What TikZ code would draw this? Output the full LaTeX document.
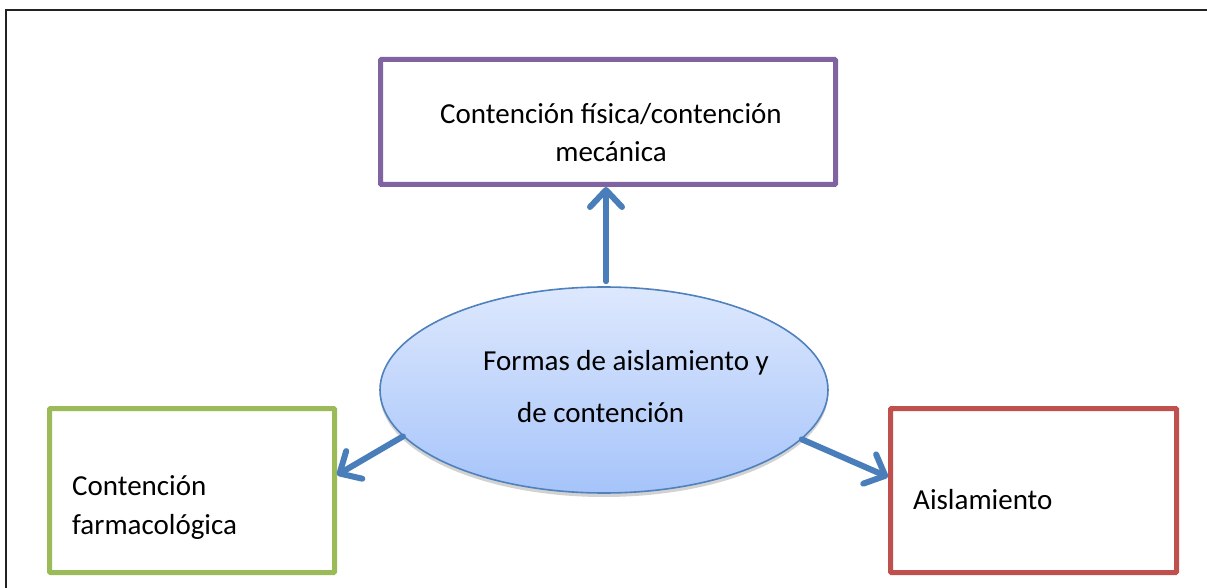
\documentclass[tikz,border=0pt]{standalone}
\usepackage{fontspec}
\setmainfont{Carlito}
\usetikzlibrary{arrows.meta,shapes.geometric,shadows}
\definecolor{boxpurple}{HTML}{8064A2}
\definecolor{boxgreen}{HTML}{9BBB59}
\definecolor{boxred}{HTML}{C0504D}
\definecolor{arrblue}{HTML}{4A7EBB}
\definecolor{ellborder}{HTML}{4F81BD}
\definecolor{elltop}{HTML}{DDE8FD}
\definecolor{ellbot}{HTML}{A6C4FA}
\definecolor{framecol}{HTML}{222222}
\tikzset{
  boxnode/.style={draw, line width=5pt, rectangle, rounded corners=1pt, fill=white},
  txt/.style={font=\fontsize{29}{35}\selectfont, inner sep=0pt, anchor=base west, text=black},
  arr/.style={draw=arrblue, line width=6pt, line cap=round,
    -{Straight Barb[round, length=17pt, width=32pt]}},
}
\begin{document}
\begin{tikzpicture}[x=1pt, y=-1pt]
\useasboundingbox (0,0) rectangle (1207,588);
\fill[white] (0,0) rectangle (1207,588);
% outer frame (only top and left visible)
\draw[framecol, line width=2pt] (6,588) -- (6,10) -- (1207,10);

% boxes
\node[boxnode, draw=boxpurple, minimum width=455pt, minimum height=125pt] (phys) at (608,122) {};
\node[boxnode, draw=boxgreen, minimum width=285pt, minimum height=164pt] (pharm) at (192,490.5) {};
\node[boxnode, draw=boxred, minimum width=286pt, minimum height=164pt] (isol) at (1033.5,490.5) {};

% ellipse
\node[ellipse, draw=ellborder, line width=1.6pt, top color=elltop, bottom color=ellbot,
  minimum width=448pt, minimum height=206pt, inner sep=0pt,
  drop shadow={shadow xshift=0pt, shadow yshift=-4pt, opacity=0.35, fill=gray}] (ell) at (604,390) {};

% texts
\node[txt, anchor=base] (t1a) at (611,124) {Contención física/contención};
\node[txt, anchor=base] (t1b) at (611,162) {mecánica};
\node[txt] (t2a) at (483,370) {Formas de aislamiento y};
\node[txt] (t2b) at (517,422) {de contención};
\node[txt] (t3a) at (72,495) {Contención};
\node[txt] (t3b) at (72,534) {farmacológica};
\node[txt] (t4) at (913,509) {Aislamiento};

% arrows
\draw[arr] ([shift={(2pt,5pt)}]ell.north) -- ([xshift=-2pt]phys.south);
\draw[arr] (ell.193) -- ([yshift=15.5pt]pharm.east);
\draw[arr] (ell.346) -- ([yshift=13.5pt]isol.west);
\end{tikzpicture}
\end{document}
